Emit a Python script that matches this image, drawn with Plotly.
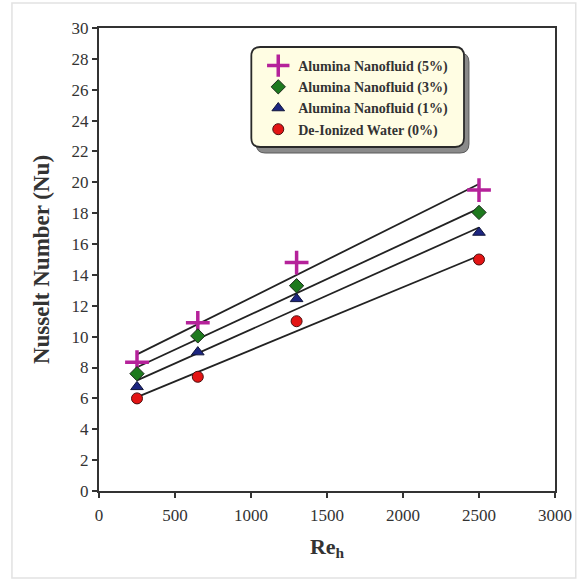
import numpy as np
import plotly.graph_objects as go

# Reynolds numbers (hydraulic) at which Nu was measured
re_h = [250, 650, 1300, 2500]

# Nusselt number for each working fluid
nu_alumina_5 = [8.35, 10.9, 14.8, 19.5]
nu_alumina_3 = [7.6, 10.05, 13.3, 18.05]
nu_alumina_1 = [6.75, 9.0, 12.45, 16.75]
nu_water = [6.0, 7.4, 11.0, 15.0]

series_names = [
    "Alumina Nanofluid (5%)",
    "Alumina Nanofluid (3%)",
    "Alumina Nanofluid (1%)",
    "De-Ionized Water (0%)",
]
x_ticks = [0, 500, 1000, 1500, 2000, 2500, 3000]
y_ticks = list(range(0, 31, 2))

series_values = [nu_alumina_5, nu_alumina_3, nu_alumina_1, nu_water]
marker_styles = [
    dict(symbol="cross-thin", size=17, color="#B5229A", line=dict(color="#B5229A", width=3.5)),
    dict(symbol="diamond", size=11, color="#1E7A1E", line=dict(color="#1a2a1a", width=1)),
    dict(symbol="triangle-up", size=11, color="#1C2580", line=dict(color="#10153a", width=1)),
    dict(symbol="circle", size=11, color="#E31414", line=dict(color="#4a1010", width=1)),
]

SERIF = "Liberation Serif, Times New Roman, serif"

fig = go.Figure()

# least-squares trend line for each fluid, spanning the measured range
x_arr = np.array(re_h, dtype=float)
x_span = np.array([x_arr.min(), x_arr.max()])
for vals in series_values:
    slope, intercept = np.polyfit(x_arr, np.array(vals), 1)
    fig.add_trace(go.Scatter(
        x=x_span, y=slope * x_span + intercept, mode="lines",
        line=dict(color="#222222", width=1.8), showlegend=False, hoverinfo="skip",
    ))

# measured points
for name, vals, mk in zip(series_names, series_values, marker_styles):
    fig.add_trace(go.Scatter(x=re_h, y=vals, mode="markers", name=name, marker=mk))

# plot-area geometry in pixels, used to place the legend panel
L, R, T, B = 99, 560, 28, 491


def px(xp):
    return (xp - L) / (R - L)


def py(yp):
    return (B - yp) / (B - T)


def rounded_box(x0, y0, x1, y1, r):
    # rounded rectangle path, pixel coordinates converted to paper units
    pts = [
        f"M {px(x0 + r)},{py(y0)}",
        f"L {px(x1 - r)},{py(y0)}",
        f"Q {px(x1)},{py(y0)} {px(x1)},{py(y0 + r)}",
        f"L {px(x1)},{py(y1 - r)}",
        f"Q {px(x1)},{py(y1)} {px(x1 - r)},{py(y1)}",
        f"L {px(x0 + r)},{py(y1)}",
        f"Q {px(x0)},{py(y1)} {px(x0)},{py(y1 - r)}",
        f"L {px(x0)},{py(y0 + r)}",
        f"Q {px(x0)},{py(y0)} {px(x0 + r)},{py(y0)}",
        "Z",
    ]
    return " ".join(pts)


shapes = [
    # faint outer frame of the figure
    dict(type="rect", xref="paper", yref="paper",
         x0=px(11), x1=px(581), y0=py(578), y1=py(3),
         line=dict(color="#e2e2e2", width=1.5), fillcolor="rgba(0,0,0,0)", layer="below"),
    # legend panel shadow
    dict(type="path", xref="paper", yref="paper", path=rounded_box(258, 53, 473, 153, 9),
         fillcolor="#8a8a8a", line=dict(color="#5a5a5a", width=1), layer="above"),
    # legend panel
    dict(type="path", xref="paper", yref="paper", path=rounded_box(253, 47, 468, 147, 9),
         fillcolor="#FFFDE3", line=dict(color="#2a2a2a", width=1.8), layer="above"),
]

fig.update_layout(
    width=584, height=582,
    margin=dict(l=L, r=584 - R, t=T, b=582 - B),
    paper_bgcolor="white", plot_bgcolor="white",
    font=dict(family=SERIF, color="#333333"),
    shapes=shapes,
    showlegend=True,
    legend=dict(
        x=px(260), y=py(50), xanchor="left", yanchor="top",
        bgcolor="rgba(0,0,0,0)", borderwidth=0,
        font=dict(family=SERIF, size=14, color="#333333", weight="bold"),
        tracegroupgap=0,
    ),
    xaxis=dict(
        range=[0, 3000], tickvals=x_ticks, ticktext=[str(v) for v in x_ticks],
        showgrid=False, zeroline=False,
        showline=True, linecolor="#333333", linewidth=2, mirror=True,
        ticks="outside", ticklen=5, tickwidth=1.5, tickcolor="#333333",
        ticklabelstandoff=3,
        tickfont=dict(family=SERIF, size=17, color="#333333"),
        title=dict(text="<b>Re<sub>h</sub></b>", font=dict(family=SERIF, size=22, color="#333333"),
                   standoff=14),
    ),
    yaxis=dict(
        range=[0, 30], tickvals=y_ticks, ticktext=[str(v) for v in y_ticks],
        showgrid=False, zeroline=False,
        showline=True, linecolor="#333333", linewidth=2, mirror=True,
        ticks="outside", ticklen=5, tickwidth=1.5, tickcolor="#333333",
        tickfont=dict(family=SERIF, size=17, color="#333333"),
        title=dict(text="<b>Nusselt Number (Nu)</b>", font=dict(family=SERIF, size=23, color="#333333"),
                   standoff=16),
    ),
)

fig.write_html("out.html")
